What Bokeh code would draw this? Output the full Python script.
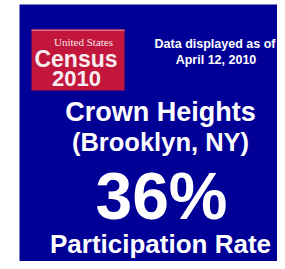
from bokeh.plotting import figure
from bokeh.models import Range1d
from bokeh.core.properties import value
from bokeh.embed import file_html
from bokeh.resources import INLINE

# ---- content ----
logo_small = ["United States"]
logo_big = ["Census", "2010"]
date_lines = ["Data displayed as of", "April 12, 2010"]
place_lines = ["Crown Heights", "(Brooklyn, NY)"]
participation_rate = [36]
rate_label = ["Participation Rate"]

BLUE = "#010096"
RED = "#c2163d"
FONT = "Liberation Sans"

W, H = 277, 261
p = figure(width=W, height=H, output_backend="svg", toolbar_location=None,
           x_range=Range1d(0, W), y_range=Range1d(H, 0), title=None,
           min_border=0, background_fill_color="white", border_fill_color="white")
p.axis.visible = False
p.grid.visible = False
p.outline_line_color = None

# background panel
p.quad(left=[19], right=[W], top=[4], bottom=[H], fill_color=BLUE, line_color=None)

# logo
p.quad(left=[31], right=[124], top=[29], bottom=[90], fill_color=RED, line_color=None)
p.quad(left=[31], right=[124], top=[29], bottom=[30.5], fill_color="#dc6a80", line_color=None)

def txt(x, y, t, size, font=FONT, style="bold", color="white"):
    # y is the desired alphabetic baseline; place by middle
    p.text(x=x, y=[b - 0.35 * size for b in y], text=t, text_font=value(font),
           text_font_style=style, text_font_size=f"{size}px", text_color=color,
           text_align="center", text_baseline="middle")

txt([83], [45.5], logo_small, 11, font="Liberation Serif", style="normal", color="#f6e4e8")
txt([75.5], [66.5], logo_big[:1], 23, color="#f8eef0")
txt([76], [86], logo_big[1:], 22, color="#f8eef0")

# date
txt([214.5, 215.5], [48, 63.5], date_lines, 12.5)

# place
txt([160], [121], place_lines[:1], 27)
txt([160], [150], place_lines[1:], 25.5)

# rate
txt([161], [219], [f"{v}%" for v in participation_rate], 66)
txt([160], [252.5], rate_label, 26)

open("out.html", "w").write(file_html(p, INLINE))
